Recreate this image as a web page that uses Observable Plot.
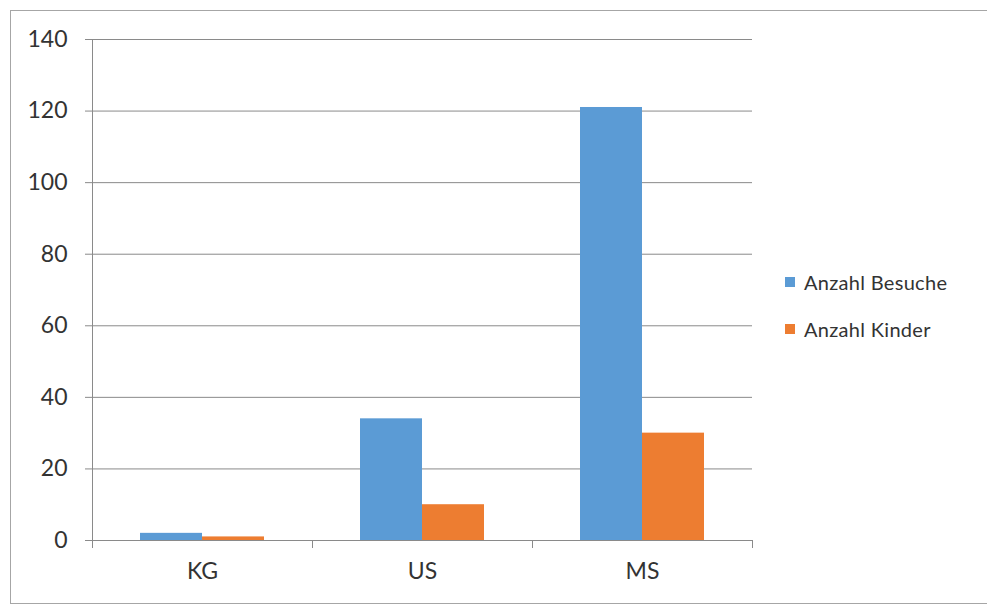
<!DOCTYPE html>
<html>
<head>
<meta charset="utf-8">
<script src="https://cdn.jsdelivr.net/npm/d3@7"></script>
<script src="https://cdn.jsdelivr.net/npm/@observablehq/plot@0.6"></script>
<style>
  html, body { margin: 0; padding: 0; background: #fff; }
  #wrap { position: relative; width: 987px; height: 604px; overflow: hidden; }
  #border { position: absolute; left: 10px; top: 10px; width: 1000px; height: 592px; border: 1px solid #a6a6a6; pointer-events: none; }
  #legend { position: absolute; left: 785px; top: 269px; font-family: Lato, "Noto Sans", sans-serif; font-size: 20px; letter-spacing: 0.3px; color: #333; }
  .item { display: flex; align-items: center; height: 26px; margin-bottom: 21px; }
  .sw { width: 10px; height: 10px; margin-right: 9px; }
</style>
</head>
<body>
<div id="wrap">
  <div id="chart"></div>
  <div id="legend"></div>
  <div id="border"></div>
</div>
<script>
const categories = ["KG", "US", "MS"];
const series = ["Anzahl Besuche", "Anzahl Kinder"];
const besuche = [2, 34, 121];
const kinder = [1, 10, 30];
const yTicks = [0, 20, 40, 60, 80, 100, 120, 140];
const colors = ["#5b9bd5", "#ed7d31"];

const data = categories.flatMap((c, i) => [
  {cat: c, series: series[0], value: besuche[i]},
  {cat: c, series: series[1], value: kinder[i]}
]);

const chart = Plot.plot({
  width: 987,
  height: 604,
  marginLeft: 92,
  marginTop: 39,
  marginBottom: 64,
  marginRight: 235,
  style: {fontFamily: "Lato, 'Noto Sans', sans-serif", fontSize: "23px", color: "#333", background: "transparent"},
  fx: {domain: categories, padding: 0, label: null},
  x: {domain: series, paddingInner: 0, paddingOuter: 0.75, axis: null},
  y: {domain: [0, 140], ticks: yTicks, label: null},
  color: {domain: series, range: colors},
  marks: [
    Plot.ruleY(yTicks, {stroke: "#8a8a8a", strokeOpacity: 1}),
    Plot.barY(data, {fx: "cat", x: "series", y: "value", fill: "series"}),
    Plot.axisY({ticks: yTicks, tickSize: 7, tickPadding: 18, stroke: "#8a8a8a", strokeOpacity: 1, label: null}),
    Plot.axisFx({anchor: "bottom", tickSize: 0, tickPadding: 22, label: null}),
    Plot.frame({anchor: "left", fx: () => categories[0], stroke: "#8a8a8a", strokeOpacity: 1}),
    Plot.frame({anchor: "left", insetTop: 501, insetBottom: -7, stroke: "#8a8a8a", strokeOpacity: 1}),
    Plot.frame({anchor: "right", insetTop: 501, insetBottom: -7, stroke: "#8a8a8a", strokeOpacity: 1})
  ]
});
document.getElementById("chart").appendChild(chart);

const legend = document.getElementById("legend");
series.forEach((s, i) => {
  const item = document.createElement("div");
  item.className = "item";
  const sw = document.createElement("div");
  sw.className = "sw";
  sw.style.background = colors[i];
  const t = document.createElement("span");
  t.textContent = s;
  item.appendChild(sw);
  item.appendChild(t);
  legend.appendChild(item);
});
</script>
</body>
</html>
